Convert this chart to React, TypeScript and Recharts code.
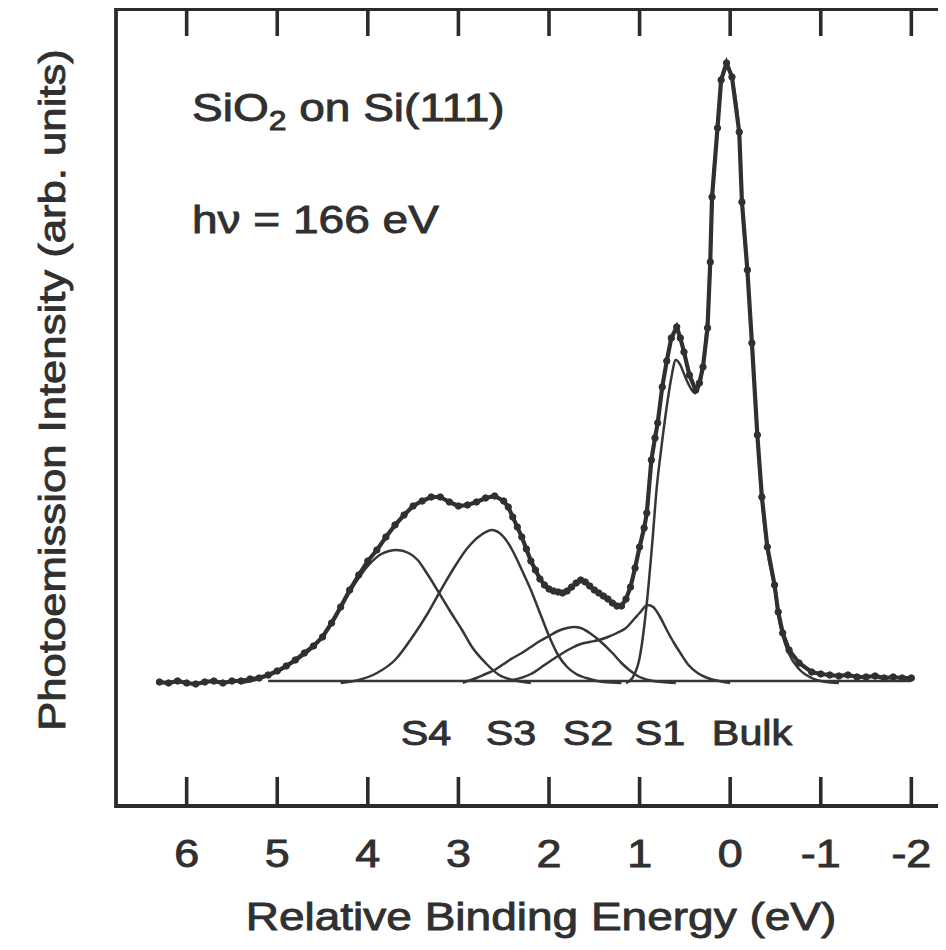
import React from "react";
import { LineChart, Line, XAxis, YAxis, ReferenceArea, ReferenceLine } from "recharts";

// Si 2p photoemission, SiO2 on Si(111), hv = 166 eV.
// Energies are binding energies relative to the bulk line (eV), intensities in arb. units.
const measuredEnergy = [
  6.3, 6.2, 6.1, 6.0, 5.9, 5.8, 5.7, 5.6, 5.5, 5.4, 5.3, 5.2, 5.1, 5.0, 4.9, 4.8, 4.7, 4.6, 4.5, 4.4,
  4.3, 4.2, 4.1, 4.0, 3.9, 3.8, 3.7, 3.6, 3.5, 3.4, 3.3, 3.2, 3.1, 3.0, 2.9, 2.8, 2.7, 2.6, 2.5, 2.45,
  2.4, 2.35, 2.3, 2.25, 2.2, 2.15, 2.1, 2.05, 2.0, 1.95, 1.9, 1.85, 1.8, 1.75, 1.7, 1.65, 1.6, 1.55,
  1.5, 1.45, 1.4, 1.35, 1.3, 1.25, 1.2, 1.15, 1.1, 1.05, 1.0, 0.95, 0.92, 0.87, 0.83, 0.8, 0.75, 0.7,
  0.65, 0.59, 0.55, 0.51, 0.45, 0.38, 0.34, 0.3, 0.25, 0.22, 0.2, 0.14, 0.1, 0.04, -0.02, -0.1, -0.13,
  -0.19, -0.24, -0.3, -0.35, -0.41, -0.49, -0.53, -0.58, -0.65, -0.76, -0.9, -1.0, -1.1, -1.2, -1.3,
  -1.4, -1.5, -1.6, -1.7, -1.8, -1.9, -2.0,
];
const measuredCounts = [
  1, 0, 2, 0, -1, 1, 2, 0, 2, 2, 4, 5, 8, 12, 17, 23, 30, 37, 46, 60,
  76, 93, 108, 122, 133, 146, 158, 168, 177, 182, 186, 186, 181, 177, 178, 181, 185, 187, 182, 176,
  166, 156, 146, 134, 122, 113, 104, 98, 94, 92, 91, 90, 92, 96, 100, 103, 101, 97,
  93, 90, 87, 84, 80, 77, 77, 84, 96, 115, 136, 155, 170, 223, 245, 260, 296, 322,
  345, 356, 345, 331, 308, 293, 300, 316, 355, 421, 486, 555, 603, 620, 606, 551, 481,
  413, 340, 248, 186, 136, 98, 71, 50, 33, 20, 11, 9, 8, 7, 8,
  6, 6, 7, 5, 6, 5, 5,
];

// fitted components
const bulkEnergy = [
  1.15, 1.08, 1.0, 0.92, 0.86, 0.81, 0.76, 0.71, 0.65, 0.6, 0.55, 0.5, 0.45, 0.39, 0.33, 0.27, 0.22,
  0.2, 0.14, 0.1, 0.04, -0.02, -0.1, -0.13, -0.19, -0.24, -0.3, -0.35, -0.41, -0.49, -0.53, -0.58,
  -0.65, -0.76, -0.9, -1.0, -1.2,
];
const bulkCounts = [
  0, 5, 25, 80, 140, 196, 235, 270, 305, 323, 318, 307, 297, 290, 300, 345, 415,
  480, 552, 600, 618, 604, 548, 480, 411, 338, 246, 184, 133, 95, 68, 47,
  29, 14, 5, 2, 0,
];

const s1Energy = [
  2.4, 2.2, 2.05, 1.9, 1.75, 1.65, 1.55, 1.45, 1.35, 1.25, 1.15, 1.05, 1.0, 0.91, 0.85, 0.78, 0.7,
  0.62, 0.55, 0.46, 0.36, 0.25, 0.12, 0.0,
];
const s1Counts = [3, 9, 18, 27, 35, 39, 41, 43, 46, 50, 55, 65, 70, 78, 76, 67, 53, 40, 30, 18, 10, 5, 2, 0];

const s2Energy = [
  2.95, 2.9, 2.8, 2.7, 2.6, 2.5, 2.4, 2.3, 2.2, 2.1, 2.0, 1.9, 1.8, 1.72, 1.65, 1.55, 1.45, 1.3, 1.2,
  1.1, 1.0, 0.9, 0.75, 0.6,
];
const s2Counts = [0, 2, 5, 9, 13, 19, 25, 30, 36, 42, 47, 52, 55, 56, 55, 50, 43, 30, 20, 12, 6, 3, 1, 0];

const s3Energy = [
  4.3, 4.1, 3.9, 3.7, 3.5, 3.35, 3.2, 3.05, 2.9, 2.75, 2.63, 2.5, 2.4, 2.3, 2.2, 2.1, 2.0, 1.9, 1.8,
  1.7, 1.55, 1.4, 1.2,
];
const s3Counts = [0, 3, 10, 23, 47, 68, 92, 115, 135, 148, 153, 146, 132, 113, 93, 70, 47, 28, 16, 9, 4, 1, 0];

const s4Energy = [
  5.4, 5.2, 5.0, 4.8, 4.6, 4.4, 4.2, 4.0, 3.85, 3.68, 3.55, 3.45, 3.35, 3.22, 3.1, 2.96, 2.85, 2.7,
  2.55, 2.4, 2.2,
];
const s4Counts = [0, 4, 11, 22, 36, 59, 91, 117, 129, 133, 130, 123, 110, 91, 73, 53, 36, 20, 8, 3, 0];

const baselineEnergy = [5.1, -2.0];
const baselineCounts = [2, 2];

const energyTicks = [6, 5, 4, 3, 2, 1, 0, -1, -2];

const componentLabels = ["S4", "S3", "S2", "S1", "Bulk"];
const componentLabelX = [426, 511, 588, 660, 752];

// axis ranges
const X_MIN = -2.78;
const X_MAX = 6.78;
const Y_MIN = -123;
const Y_MAX = 674;

const INK = "#303030";
const FONT = "'Liberation Sans', Arial, Helvetica, sans-serif";
const STRETCH = "scale(1.18,1)";

const toPoints = (es: number[], vs: number[]) => es.map((e, i) => ({ e, v: vs[i] }));

const measured = toPoints(measuredEnergy, measuredCounts);
const components = [
  toPoints(s4Energy, s4Counts),
  toPoints(s3Energy, s3Counts),
  toPoints(s2Energy, s2Counts),
  toPoints(s1Energy, s1Counts),
  toPoints(bulkEnergy, bulkCounts),
];
const baseline = toPoints(baselineEnergy, baselineCounts);

const textProps = {
  fontFamily: FONT,
  fill: INK,
  stroke: INK,
  strokeWidth: 0.9,
};

const EnergyTick = ({ x, y, payload }: any) => (
  <g transform={`translate(${x},${y + 61}) ${STRETCH}`}>
    <text {...textProps} textAnchor="middle" fontSize={38}>
      {payload.value}
    </text>
  </g>
);

export default function App() {
  return (
    <div
      style={{
        position: "relative",
        width: 938,
        height: 934,
        overflow: "hidden",
        background: "#ffffff",
      }}
    >
      <LineChart
        width={1000}
        height={934}
        margin={{ top: 1, right: 26, bottom: 106, left: 108 }}
      >
        <XAxis
          dataKey="e"
          type="number"
          domain={[X_MIN, X_MAX]}
          reversed
          allowDataOverflow
          ticks={energyTicks}
          interval={0}
          axisLine={false}
          tickLine={false}
          tickSize={0}
          tickMargin={0}
          height={30}
          tick={<EnergyTick />}
        />
        <YAxis type="number" domain={[Y_MIN, Y_MAX]} allowDataOverflow hide />

        {/* frame and inward ticks */}
        <ReferenceArea
          x1={X_MIN}
          x2={X_MAX}
          y1={Y_MIN}
          y2={Y_MAX}
          fill="none"
          stroke="#2b2b2b"
          strokeWidth={3.8}
          ifOverflow="visible"
        />
        {energyTicks.map((t) => (
          <ReferenceLine
            key={`b${t}`}
            segment={[
              { x: t, y: Y_MIN },
              { x: t, y: Y_MIN + 29 },
            ]}
            stroke="#2b2b2b"
            strokeWidth={3.6}
            ifOverflow="visible"
          />
        ))}
        {energyTicks.map((t) => (
          <ReferenceLine
            key={`t${t}`}
            segment={[
              { x: t, y: Y_MAX },
              { x: t, y: Y_MAX - 27 },
            ]}
            stroke="#2b2b2b"
            strokeWidth={3.6}
            ifOverflow="visible"
          />
        ))}

        <Line
          data={baseline}
          dataKey="v"
          type="linear"
          stroke="#363636"
          strokeWidth={2.5}
          dot={false}
          isAnimationActive={false}
        />
        {components.map((c, i) => (
          <Line
            key={componentLabels[i]}
            data={c}
            dataKey="v"
            type="monotone"
            stroke="#363636"
            strokeWidth={2.5}
            dot={false}
            isAnimationActive={false}
          />
        ))}
        <Line
          data={measured}
          dataKey="v"
          type="linear"
          stroke={INK}
          strokeWidth={4.2}
          dot={{ r: 3.2, fill: INK, stroke: INK, strokeWidth: 1 }}
          isAnimationActive={false}
        />
      </LineChart>

      <svg
        width={938}
        height={934}
        style={{ position: "absolute", left: 0, top: 0, pointerEvents: "none" }}
      >
        <g transform={`translate(184,113) ${STRETCH}`}>
          <text {...textProps} fontSize={39}>
            SiO
            <tspan fontSize={27} dy={9}>
              2
            </tspan>
            <tspan dy={-9}> on Si(111)</tspan>
          </text>
        </g>
        <g transform={`translate(184,225) ${STRETCH}`}>
          <text {...textProps} fontSize={39}>
            hν = 166 eV
          </text>
        </g>

        {componentLabels.map((name, i) => (
          <g key={name} transform={`translate(${componentLabelX[i] - 8},737) ${STRETCH}`}>
            <text {...textProps} fontSize={35} textAnchor="middle">
              {name}
            </text>
          </g>
        ))}

        <g transform={`translate(533,922) ${STRETCH}`}>
          <text {...textProps} fontSize={39} textAnchor="middle">
            Relative Binding Energy (eV)
          </text>
        </g>
        <g transform={`translate(57,382) rotate(-90) ${STRETCH}`}>
          <text {...textProps} fontSize={37} textAnchor="middle">
            Photoemission Intensity (arb. units)
          </text>
        </g>
      </svg>
    </div>
  );
}
